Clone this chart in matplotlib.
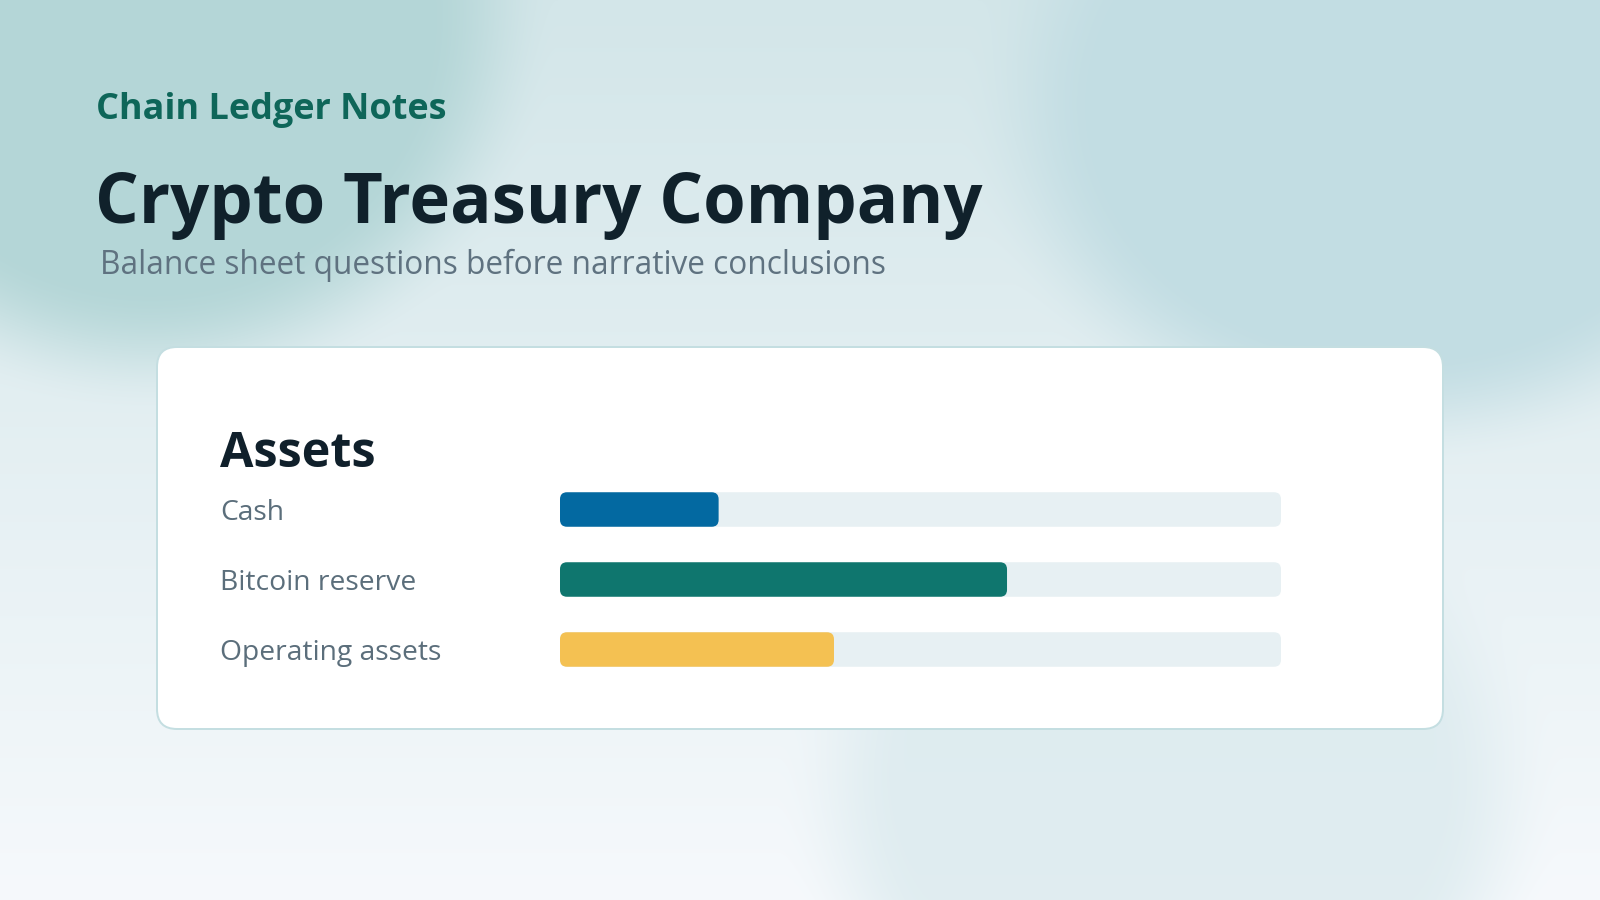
import matplotlib
matplotlib.use("Agg")
import matplotlib.pyplot as plt
from matplotlib.patches import FancyBboxPatch
from matplotlib.colors import to_rgb
import numpy as np

# data
categories = ["Cash", "Bitcoin reserve", "Operating assets"]
values = [22, 62, 38]
bar_colors = ["#0369a1", "#0f766e", "#f4c152"]
track_max = 100

kicker = "Chain Ledger Notes"
title = "Crypto Treasury Company"
subtitle = "Balance sheet questions before narrative conclusions"
panel_title = "Assets"

W, H = 1600, 900
FONT = "Open Sans"


def px(size):
    # pixel size -> points at dpi 100
    return size * 0.72


# background: soft vertical gradient with blurred blobs
yy, xx = np.mgrid[0:H, 0:W].astype(float)
top, bottom = np.array(to_rgb("#d3e6e9")), np.array(to_rgb("#f6f9fc"))
t = (yy / H)[..., None]
bg = top * (1 - t) + bottom * t

blobs = [
    # cx, cy, rx, ry, color, strength
    (150, 20, 340, 330, "#b4d6d7", 1.0),
    (1400, 110, 370, 300, "#c2dde3", 1.0),
    (1170, 800, 330, 300, "#d9e9ed", 0.75),
]
for cx, cy, rx, ry, col, s in blobs:
    d = np.sqrt(((xx - cx) / rx) ** 2 + ((yy - cy) / ry) ** 2)
    a = np.clip((1.0 - d) / 0.4 + 0.5, 0, 1)
    a = a * a * (3 - 2 * a) * s
    bg = bg * (1 - a[..., None]) + np.array(to_rgb(col)) * a[..., None]

fig = plt.figure(figsize=(16, 9), dpi=100)
ax = fig.add_axes([0, 0, 1, 1])
ax.imshow(bg, extent=(0, W, H, 0), aspect="auto", interpolation="bilinear")
ax.set_xlim(0, W)
ax.set_ylim(H, 0)
ax.axis("off")

# header texts
ax.text(96, 119, kicker, fontsize=px(36), fontweight="bold", color="#0e6659",
        family=FONT, va="baseline", ha="left")
ax.text(95, 223, title, fontsize=px(68.8), fontweight="bold", color="#10212b",
        family=FONT, va="baseline", ha="left")
ax.text(100, 274, subtitle, fontsize=px(31.6), color="#5f7280",
        family=FONT, va="baseline", ha="left")

# card
card = FancyBboxPatch((157, 347), 1286, 382, boxstyle="round,pad=0,rounding_size=20",
                      facecolor="white", edgecolor="#c4dee1", linewidth=2 * 0.72, zorder=2)
ax.add_patch(card)
ax.text(220, 467, panel_title, fontsize=px(48.5), fontweight="bold", color="#10202b",
        family=FONT, va="baseline", ha="left", zorder=3)

# bars
bx0, bx1 = 560, 1281
by0, by1 = 474.5, 684.5
bax = fig.add_axes([bx0 / W, (H - by1) / H, (bx1 - bx0) / W, (by1 - by0) / H])
bax.set_xlim(0, track_max)
bax.set_ylim(len(categories) - 0.5, -0.5)
bax.axis("off")
bax.patch.set_alpha(0)

ux = (bx1 - bx0) / track_max          # px per x unit
uy = (by1 - by0) / len(categories)    # px per y unit
aspect = ux / uy
bar_h = 34.5 / uy
r = 7 / ux

for i, (cat, v, c) in enumerate(zip(categories, values, bar_colors)):
    y = i - bar_h / 2
    bax.add_patch(FancyBboxPatch((0, y), track_max, bar_h,
                                 boxstyle=f"round,pad=0,rounding_size={r}",
                                 mutation_aspect=aspect, facecolor="#e7f0f3",
                                 edgecolor="none"))
    bax.add_patch(FancyBboxPatch((0, y), v, bar_h,
                                 boxstyle=f"round,pad=0,rounding_size={r}",
                                 mutation_aspect=aspect, facecolor=c,
                                 edgecolor="none"))
    # label in the card, aligned with the bar
    ty = by0 + (i + 0.5) * uy
    ax.text(220, ty, cat, fontsize=px(28.2), color="#5b6e7b", family=FONT,
            va="center_baseline", ha="left", zorder=3)

fig.savefig("out.png", dpi=100)
